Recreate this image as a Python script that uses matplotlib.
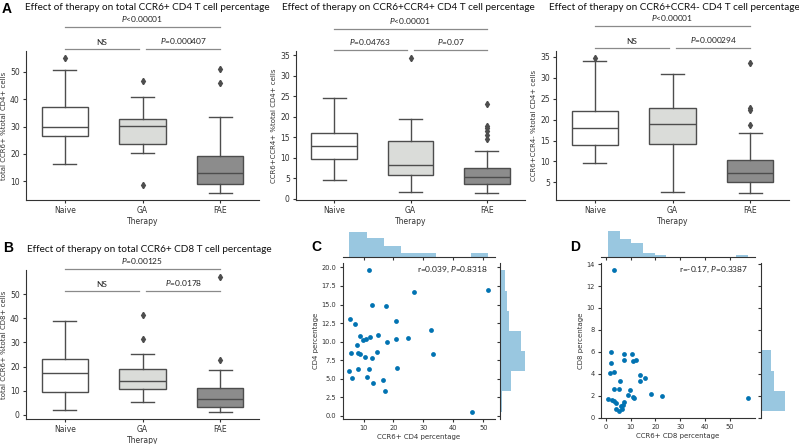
import numpy as np
import matplotlib
matplotlib.use("Agg")
import matplotlib.pyplot as plt

# ── Data ───────────────────────────────────────────────────────────────────────
GROUPS = ["Naive", "GA", "FAE"]

# box summaries: whislo, q1, median, q3, whishi, fliers
A1_LO = [16.4, 20.3, 5.6]
A1_Q1 = [26.5, 23.7, 9.0]
A1_MED = [30.0, 30.2, 12.9]
A1_Q3 = [37.0, 32.9, 19.2]
A1_HI = [50.8, 40.9, 33.4]
A1_FLIERS = [[55.2], [46.8, 8.5], [51.2, 46.0]]

A2_LO = [4.7, 1.6, 1.4]
A2_Q1 = [9.7, 5.8, 3.6]
A2_MED = [13.0, 8.2, 5.3]
A2_Q3 = [16.0, 14.1, 7.6]
A2_HI = [24.6, 19.4, 11.7]
A2_FLIERS = [[], [34.4], [23.2, 17.8, 17.2, 16.5, 15.5, 14.5]]

A3_LO = [9.6, 2.6, 2.4]
A3_Q1 = [13.9, 14.1, 5.1]
A3_MED = [17.9, 18.9, 7.2]
A3_Q3 = [22.1, 22.8, 10.3]
A3_HI = [34.0, 31.0, 16.9]
A3_FLIERS = [[34.8], [], [33.6, 22.7, 22.4, 18.6]]

B_LO = [1.8, 5.1, 1.0]
B_Q1 = [9.4, 10.7, 3.2]
B_MED = [17.2, 13.9, 6.5]
B_Q3 = [23.3, 18.9, 11.0]
B_HI = [39.1, 25.2, 18.5]
B_FLIERS = [[], [41.3, 31.3], [57.3, 22.7]]

C_X = [11.7, 27.0, 51.6, 13.0, 17.4, 5.6, 7.2, 20.7, 32.4, 8.8, 12.3, 14.7,
       9.8, 10.9, 20.8, 24.9, 17.7, 7.9, 5.7, 8.2, 8.7, 14.4, 33.2, 10.6,
       12.8, 21.3, 5.3, 8.3, 12.0, 6.3, 11.3, 13.1, 16.6, 17.2, 46.1]
C_Y = [19.6, 16.7, 17.0, 15.0, 14.8, 13.0, 12.4, 12.8, 11.6, 10.8, 10.6, 10.9,
       10.2, 10.3, 10.4, 10.5, 10.0, 9.6, 8.5, 8.5, 8.4, 8.6, 8.3, 8.0,
       7.8, 6.5, 6.1, 6.3, 6.3, 5.1, 5.2, 4.5, 4.8, 3.4, 0.6]

D_X = [3.2, 2.3, 7.2, 10.5, 7.4, 10.9, 12.3, 2.3, 3.2, 1.6, 13.7, 15.8,
       5.9, 13.7, 3.2, 5.4, 9.7, 18.2, 8.8, 22.5, 11.1, 11.4, 0.9, 2.4,
       3.4, 7.2, 4.2, 7.1, 6.0, 4.0, 6.6, 5.2, 57.1]
D_Y = [13.5, 6.0, 5.8, 5.8, 5.3, 5.2, 5.3, 5.0, 4.2, 4.1, 3.9, 3.6,
       3.3, 3.3, 2.6, 2.6, 2.5, 2.2, 2.1, 2.0, 1.9, 1.8, 1.7, 1.6,
       1.5, 1.4, 1.3, 1.2, 1.1, 0.8, 0.8, 0.6, 1.8]

# ── Style ──────────────────────────────────────────────────────────────────────
W, H = 799, 444
plt.rcParams["font.family"] = ["DejaVu Sans"]
plt.rcParams["mathtext.fontset"] = "custom"
plt.rcParams["mathtext.it"] = "Lato:italic"
plt.rcParams["mathtext.rm"] = "Lato"

BOX_COLORS = ["#ffffff", "#dadcd9", "#8c8c8c"]
EDGE = "#4d4d4d"
AXC = "#333333"
LINE_GREY = "#8a8a8a"
DOT = "#0173b2"
TITLE_FONT = "Lato"


def rect(l, t, r, b):
    return [l / W, 1 - b / H, (r - l) / W, (b - t) / H]


def style_axes(ax, size=5.5):
    for s in ["top", "right"]:
        ax.spines[s].set_visible(False)
    for s in ["left", "bottom"]:
        ax.spines[s].set_color(AXC)
        ax.spines[s].set_linewidth(0.8)
    ax.tick_params(colors=AXC, labelsize=size, length=2.5, width=0.8, pad=2)


fig = plt.figure(figsize=(W / 100, H / 100), dpi=100)

# ── Box panels ─────────────────────────────────────────────────────────────────
BOX_PANELS = [
    (rect(26, 51, 259, 200), A1_LO, A1_Q1, A1_MED, A1_Q3, A1_HI, A1_FLIERS,
     "total CCR6+ %total CD4+ cells",
     "Effect of therapy on total CCR6+ CD4 T cell percentage", (147, 8),
     ["NS", "$P$=0.000407", "$P$<0.00001"], (1.013, 1.16), [10, 20, 30, 40, 50]),
    (rect(296, 51, 525, 200), A2_LO, A2_Q1, A2_MED, A2_Q3, A2_HI, A2_FLIERS,
     "CCR6+CCR4+ %total CD4+ cells",
     "Effect of therapy on CCR6+CCR4+ CD4 T cell percentage", (408, 8),
     ["$P$=0.04763", "$P$=0.07", "$P$<0.00001"], (1.004, 1.15), range(0, 40, 5)),
    (rect(556, 51, 789, 200), A3_LO, A3_Q1, A3_MED, A3_Q3, A3_HI, A3_FLIERS,
     "CCR6+CCR4- %total CD4+ cells",
     "Effect of therapy on CCR6+CCR4- CD4 T cell percentage", (674, 8),
     ["NS", "$P$=0.000294", "$P$<0.00001"], (1.018, 1.168), range(5, 40, 5)),
    (rect(26, 270, 259, 419), B_LO, B_Q1, B_MED, B_Q3, B_HI, B_FLIERS,
     "total CCR6+ %total CD8+ cells",
     "Effect of therapy on total CCR6+ CD8 T cell percentage", (149, 249),
     ["NS", "$P$=0.0178", "$P$=0.00125"], (0.859, 1.007), range(0, 60, 10)),
]

for (pos, lo, q1, med, q3, hi, fl, ylab, title, (tx, ty), ann,
     (y_low, y_top), yticks) in BOX_PANELS:
    ax = fig.add_axes(pos)
    stats = [dict(whislo=lo[i], q1=q1[i], med=med[i], q3=q3[i],
                  whishi=hi[i], fliers=fl[i]) for i in range(3)]
    bp = ax.bxp(stats, positions=[0, 1, 2], widths=0.6, capwidths=0.3,
                patch_artist=True,
                boxprops=dict(edgecolor=EDGE, linewidth=1.0),
                medianprops=dict(color=EDGE, linewidth=1.0),
                whiskerprops=dict(color=EDGE, linewidth=1.0),
                capprops=dict(color=EDGE, linewidth=1.0),
                flierprops=dict(marker="d", markersize=3.2,
                                markerfacecolor=EDGE, markeredgecolor=EDGE))
    for patch, c in zip(bp["boxes"], BOX_COLORS):
        patch.set_facecolor(c)

    vals = lo + hi + [v for f in fl for v in f]
    vmin, vmax = min(vals), max(vals)
    pad = 0.05 * (vmax - vmin)
    ax.set_ylim(vmin - pad, vmax + pad)
    ax.set_xlim(-0.5, 2.5)
    ax.set_yticks(list(yticks))
    ax.set_xticks([0, 1, 2])
    ax.set_xticklabels(GROUPS)
    ax.set_ylabel(ylab, fontsize=5, color=AXC, labelpad=2)
    ax.set_xlabel("Therapy", fontsize=5.5, color=AXC, labelpad=1)
    style_axes(ax)

    tr = ax.get_xaxis_transform()
    ax.plot([0, 0.95], [y_low, y_low], color=LINE_GREY, lw=0.9,
            transform=tr, clip_on=False)
    ax.plot([1.05, 2], [y_low, y_low], color=LINE_GREY, lw=0.9,
            transform=tr, clip_on=False)
    ax.plot([0, 2], [y_top, y_top], color=LINE_GREY, lw=0.9,
            transform=tr, clip_on=False)
    ax.text(0.475, y_low + 0.02, ann[0], transform=tr, ha="center",
            va="bottom", fontsize=6, family=TITLE_FONT, color="#222222")
    ax.text(1.525, y_low + 0.02, ann[1], transform=tr, ha="center",
            va="bottom", fontsize=6, family=TITLE_FONT, color="#222222")
    ax.text(1.0, y_top + 0.02, ann[2], transform=tr, ha="center",
            va="bottom", fontsize=6, family=TITLE_FONT, color="#222222")

    fig.text(tx / W, 1 - ty / H, title, fontsize=7.2, family=TITLE_FONT,
             color="#111111", ha="center", va="center")

# ── Scatter (joint) panels ─────────────────────────────────────────────────────
JOINT = [
    ((342.5, 263.3, 495, 418.6), (231, 257.3), (500, 526.5), C_X, C_Y, 8, 7,
     "CCR6+ CD4 percentage", "CD4 percentage", "r=0.039, $P$=0.8318",
     np.arange(0, 20.1, 2.5), "{:.1f}", range(10, 60, 10)),
    ((601, 262.5, 754.7, 418.2), (230, 257), (760.5, 786), D_X, D_Y, 12, 7,
     "CCR6+ CD8 percentage", "CD8 percentage", "r=-0.17, $P$=0.3387",
     range(0, 16, 2), "{:d}", range(0, 60, 10)),
]

for ((l, t, r, b), (mt, mb), (ml, mr), xs, ys, bx, by, xlab, ylab, note,
     yticks, yfmt, xticks) in JOINT:
    ax = fig.add_axes(rect(l, t, r, b))
    ax.scatter(xs, ys, s=12, color=DOT, linewidths=0)
    ax.set_xticks(list(xticks))
    ax.set_yticks(list(yticks))
    ax.set_yticklabels([yfmt.format(v) for v in yticks])
    ax.set_xlabel(xlab, fontsize=5, color=AXC, labelpad=2)
    ax.set_ylabel(ylab, fontsize=5, color=AXC, labelpad=2)
    style_axes(ax, size=4.8)
    ax.text(0.955, 0.955, note, transform=ax.transAxes, ha="right",
            va="center", fontsize=6, family=TITLE_FONT, color="#222222")

    mx = fig.add_axes(rect(l, mt, r, mb))
    mx.hist(xs, bins=bx, color=DOT, alpha=0.4)
    mx.set_xlim(ax.get_xlim())
    mx.set_xticks(list(xticks))
    mx.set_xticklabels([])
    mx.set_yticks([])
    for s in ["top", "right", "left"]:
        mx.spines[s].set_visible(False)
    mx.spines["bottom"].set_color(AXC)
    mx.spines["bottom"].set_linewidth(0.8)
    mx.tick_params(colors=AXC, length=2.5, width=0.8)

    my = fig.add_axes(rect(ml, t, mr, b))
    my.hist(ys, bins=by, color=DOT, alpha=0.4, orientation="horizontal")
    my.set_ylim(ax.get_ylim())
    my.set_yticks(list(yticks))
    my.set_yticklabels([])
    my.set_xticks([])
    for s in ["top", "right", "bottom"]:
        my.spines[s].set_visible(False)
    my.spines["left"].set_color(AXC)
    my.spines["left"].set_linewidth(0.8)
    my.tick_params(colors=AXC, length=2.5, width=0.8)

# ── Panel letters ──────────────────────────────────────────────────────────────
for letter, x, y in [("A", 2, 9), ("B", 3, 248), ("C", 311, 247), ("D", 570, 247)]:
    fig.text(x / W, 1 - y / H, letter, fontsize=10, fontweight="bold",
             family="Liberation Sans", ha="left", va="center")

fig.savefig("out.png", dpi=100)
